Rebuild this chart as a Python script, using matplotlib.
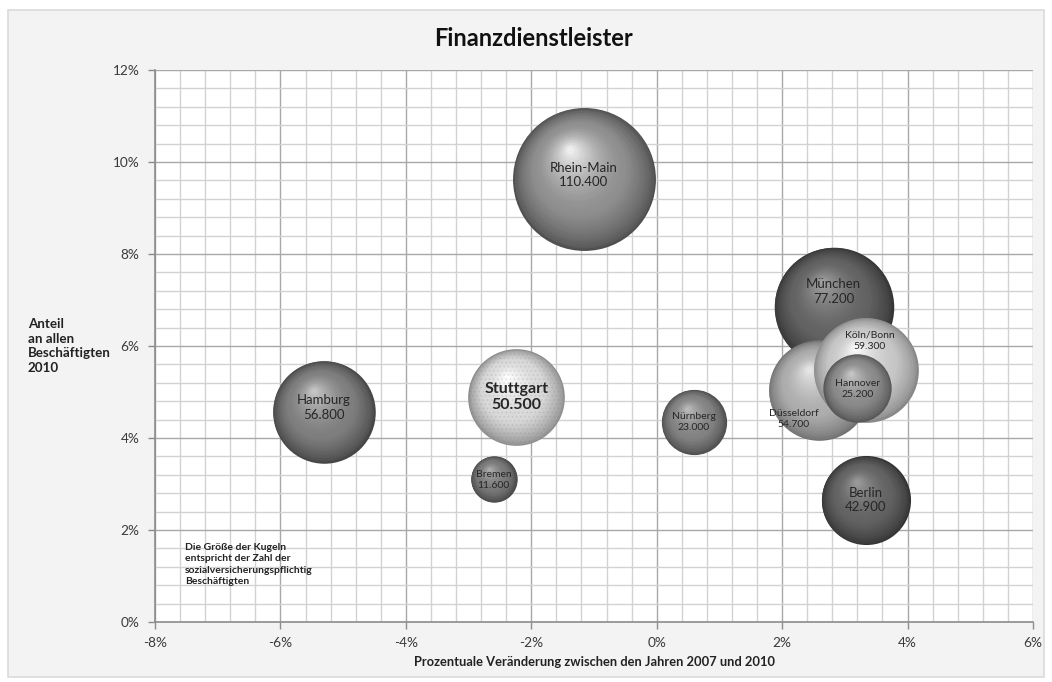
import matplotlib
matplotlib.use("Agg")
import matplotlib.pyplot as plt
import matplotlib.transforms as mtransforms
from matplotlib.patches import Rectangle
from matplotlib.ticker import MultipleLocator, FuncFormatter
import numpy as np

# --- data -------------------------------------------------------------
cities = ["Rhein-Main", "München", "Düsseldorf", "Köln/Bonn", "Hannover",
          "Berlin", "Hamburg", "Stuttgart", "Nürnberg", "Bremen"]
change_pct = [-1.16, 2.82, 2.58, 3.33, 3.20, 3.33, -5.31, -2.24, 0.59, -2.60]
share_pct = [9.63, 6.85, 5.04, 5.48, 5.09, 2.65, 4.57, 4.89, 4.35, 3.11]
employees = [110400, 77200, 54700, 59300, 25200, 42900, 56800, 50500, 23000, 11600]

x_ticks = [-8, -6, -4, -2, 0, 2, 4, 6]
y_ticks = [0, 2, 4, 6, 8, 10, 12]

title = "Finanzdienstleister"
x_label = "Prozentuale Veränderung zwischen den Jahren 2007 und 2010"
y_label = "Anteil\nan allen\nBeschäftigten\n2010"
note = ("Die Größe der Kugeln\nentspricht der Zahl der\n"
        "sozialversicherungspflichtig\nBeschäftigten")

# --- styling ------------------------------------------------------------
FONT = ["Lato", "DejaVu Sans"]
plt.rcParams["font.family"] = FONT
plt.rcParams["hatch.linewidth"] = 0.8
SIZE_SCALE = 0.0959          # marker area (pt^2) per employee

# sphere shading per city: (edge, body, highlight)
shades = {
    "Rhein-Main": ("#505050", "#8e8e8e", "#f2f2f2"),
    "München":    ("#363636", "#626262", "#a2a2a2"),
    "Düsseldorf": ("#707070", "#acacac", "#e8e8e8"),
    "Köln/Bonn":  ("#888888", "#c6c6c6", "#fafafa"),
    "Hannover":   ("#545454", "#8a8a8a", "#c8c8c8"),
    "Berlin":     ("#343434", "#626262", "#9c9c9c"),
    "Hamburg":    ("#464646", "#7e7e7e", "#c8c8c8"),
    "Stuttgart":  ("#8c8c8c", "#d8d8d8", "#ffffff"),
    "Nürnberg":   ("#4c4c4c", "#828282", "#bcbcbc"),
    "Bremen":     ("#464646", "#787878", "#b0b0b0"),
}
label_fmt = {  # fontsize, weight, offset of label centre in points
    "Rhein-Main": (9.5, "normal", (0, 3)),
    "München":    (9.5, "normal", (0, 11)),
    "Düsseldorf": (7.5, "normal", (-18, -21)),
    "Köln/Bonn":  (7.5, "normal", (3, 21)),
    "Hannover":   (7.5, "normal", (0, -1)),
    "Berlin":     (9.5, "normal", (0, 0)),
    "Hamburg":    (9.5, "normal", (0, 3)),
    "Stuttgart":  (11.5, "bold", (0, 0)),
    "Nürnberg":   (7.5, "normal", (0, 0)),
    "Bremen":     (7.5, "normal", (0, -1)),
}

W, H, DPI = 1052, 682, 100
fig = plt.figure(figsize=(W / DPI, H / DPI), dpi=DPI, facecolor="white")

# chart area background
fig.patches.append(Rectangle((8 / W, 5 / H), 1036 / W, 667 / H,
                             transform=fig.transFigure, facecolor="#f3f3f3",
                             edgecolor="#dadada", linewidth=1.2, zorder=-10))

ax = fig.add_axes([155 / W, 1 - 622 / H, (1033 - 155) / W, (622 - 70) / H])
ax.set_zorder(1)
ax.set_facecolor("white")
ax.set_xlim(x_ticks[0], x_ticks[-1])
ax.set_ylim(y_ticks[0], y_ticks[-1])
ax.xaxis.set_major_locator(MultipleLocator(2))
ax.xaxis.set_minor_locator(MultipleLocator(0.4))
ax.yaxis.set_major_locator(MultipleLocator(2))
ax.yaxis.set_minor_locator(MultipleLocator(0.4))
pct = FuncFormatter(lambda v, _: f"{v:.0f}%")
ax.xaxis.set_major_formatter(pct)
ax.yaxis.set_major_formatter(pct)
ax.grid(which="minor", color="#d2d2d2", linewidth=1.0)
ax.grid(which="major", color="#a8a8a8", linewidth=1.0)
ax.set_axisbelow(True)
for side in ("top", "right"):
    ax.spines[side].set_visible(False)
for side in ("left", "bottom"):
    ax.spines[side].set_color("#8c8c8c")
    ax.spines[side].set_linewidth(1.2)
ax.tick_params(which="major", length=5, width=1, color="#8c8c8c",
               labelsize=9.8, labelcolor="#3a3a3a", pad=6)
ax.tick_params(which="minor", length=0)


def hex2rgb(h):
    h = h.lstrip("#")
    return np.array([int(h[i:i + 2], 16) / 255 for i in (0, 2, 4)])


def shade_at(t, edge, body, hi):
    e, b, h = hex2rgb(edge), hex2rgb(body), hex2rgb(hi)
    if t < 0.35:
        u = t / 0.35
        u = u ** 0.7
        return e + (b - e) * u
    u = (t - 0.35) / 0.65
    u = u ** 1.6
    return b + (h - b) * u


N_LAYERS = 45
HL_DIR = np.array([-0.2, 0.42])   # highlight position relative to radius

for i, name in enumerate(cities):
    x, y, v = change_pct[i], share_pct[i], employees[i]
    s0 = v * SIZE_SCALE
    r_pt = np.sqrt(s0) / 2
    edge, body, hi = shades[name]
    base_z = 3 + i * 2
    for k in range(N_LAYERS):
        t = k / N_LAYERS
        frac = 1 - t * 0.97
        dx, dy = HL_DIR * r_pt * t
        tr = ax.transData + mtransforms.ScaledTranslation(
            dx / 72, dy / 72, fig.dpi_scale_trans)
        ax.scatter([x], [y], s=s0 * frac ** 2, color=shade_at(t, edge, body, hi),
                   linewidths=0, transform=tr, zorder=base_z)
    if name == "Stuttgart":
        ax.scatter([x], [y], s=s0 * 0.97, facecolor="none",
                   edgecolor=(0.5, 0.5, 0.5, 0.16), hatch="....",
                   linewidths=0, zorder=base_z + 0.5)
    fs, fw, (ox, oy) = label_fmt[name]
    label = f"{name}\n{v:,}".replace(",", ".")
    ax.annotate(label, (x, y), xytext=(ox, oy), textcoords="offset points",
                ha="center", va="center", fontsize=fs, fontweight=fw,
                color="#262626", linespacing=1.25, zorder=base_z + 1)

ax.text(-7.52, 1.72, note, fontsize=7.5, fontweight="bold", color="#222222",
        ha="left", va="top", linespacing=1.35, zorder=30)

fig.text(533 / W, 1 - 38 / H, title, fontsize=17, fontweight="bold",
         color="#111111", ha="center", va="center")
fig.text(594 / W, 1 - 662 / H, x_label, fontsize=9.3, fontweight="bold",
         color="#222222", ha="center", va="center")
fig.text(28 / W, 1 - 346 / H, y_label, fontsize=9.6, fontweight="bold",
         color="#222222", ha="left", va="center", linespacing=1.25)

fig.savefig("out.png", dpi=DPI, facecolor=fig.get_facecolor())
